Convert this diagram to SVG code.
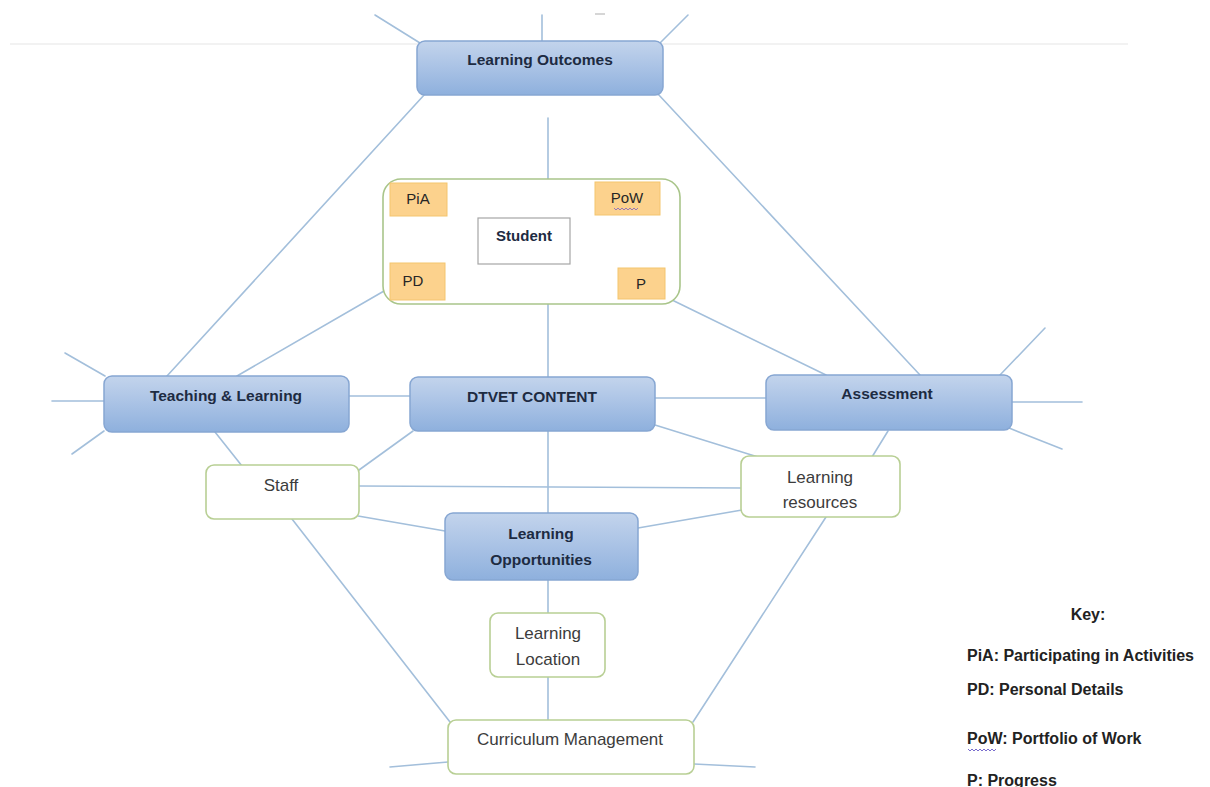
<svg xmlns="http://www.w3.org/2000/svg" width="1210" height="787" viewBox="0 0 1210 787">
<defs>
<linearGradient id="blueGrad" x1="0" y1="0" x2="0" y2="1">
<stop offset="0" stop-color="#c3d4ec"/>
<stop offset="0.5" stop-color="#a9c2e5"/>
<stop offset="1" stop-color="#8eb0dd"/>
</linearGradient>
<style>
.c{stroke:#a3bfdb;stroke-width:1.6;fill:none;stroke-linecap:round}
.blue{fill:url(#blueGrad);stroke:#86a6d2;stroke-width:1.5}
.green{fill:#ffffff;stroke:#b8cf94;stroke-width:1.6}
.orange{fill:#fcd28d;stroke:#f4c56e;stroke-width:1}
.bt{font-family:"Liberation Sans",Arial,sans-serif;font-weight:bold;font-size:15.5px;fill:#1d2b42;text-anchor:middle}
.rt{font-family:"Liberation Sans",Arial,sans-serif;font-size:17px;fill:#3c3c3c;text-anchor:middle}
.st{font-family:"Liberation Sans",Arial,sans-serif;font-size:15px;fill:#262626;text-anchor:middle}
.kt{font-family:"Liberation Sans",Arial,sans-serif;font-weight:bold;font-size:16px;fill:#222222}
</style>
</defs>
<rect width="1210" height="787" fill="#ffffff"/>
<line x1="10" y1="44" x2="1128" y2="44" stroke="#eeeeee" stroke-width="1.5"/>
<line x1="595" y1="14" x2="605" y2="14" stroke="#c8c8c8" stroke-width="1.5"/>

<g id="connectors">
<!-- Learning Outcomes stubs -->
<line class="c" x1="375" y1="15" x2="420" y2="43"/>
<line class="c" x1="542" y1="15" x2="542" y2="41"/>
<line class="c" x1="688" y1="15" x2="660" y2="43"/>
<!-- LO to T&L and Assessment -->
<line class="c" x1="425" y1="94" x2="167" y2="376"/>
<line class="c" x1="658" y1="94" x2="920" y2="375"/>
<!-- LO area to Student -->
<line class="c" x1="548" y1="118" x2="548" y2="179"/>
<!-- Student container to others -->
<line class="c" x1="384" y1="291" x2="237" y2="376"/>
<line class="c" x1="670" y1="299" x2="826" y2="375"/>
<line class="c" x1="548" y1="304" x2="548" y2="377"/>
<!-- inner student links -->
<line class="c" x1="448" y1="209" x2="478" y2="222"/>
<line class="c" x1="596" y1="214" x2="570" y2="226"/>
<line class="c" x1="446" y1="274" x2="478" y2="259"/>
<line class="c" x1="618" y1="268" x2="577" y2="258"/>
<!-- T&L stubs -->
<line class="c" x1="65" y1="353" x2="105" y2="376"/>
<line class="c" x1="52" y1="401" x2="104" y2="401"/>
<line class="c" x1="72" y1="454" x2="104" y2="431"/>
<!-- Assessment stubs -->
<line class="c" x1="1000" y1="375" x2="1045" y2="328"/>
<line class="c" x1="1012" y1="402" x2="1082" y2="402"/>
<line class="c" x1="1009" y1="428" x2="1062" y2="449"/>
<!-- row connections -->
<line class="c" x1="349" y1="396" x2="410" y2="396"/>
<line class="c" x1="655" y1="398" x2="766" y2="398"/>
<line class="c" x1="215" y1="432" x2="242" y2="466"/>
<line class="c" x1="359" y1="470" x2="413" y2="431"/>
<line class="c" x1="359" y1="486" x2="742" y2="488"/>
<line class="c" x1="358" y1="516" x2="445" y2="531"/>
<line class="c" x1="638" y1="528" x2="742" y2="510"/>
<line class="c" x1="655" y1="425" x2="758" y2="457"/>
<line class="c" x1="888" y1="431" x2="872" y2="457"/>
<line class="c" x1="548" y1="431" x2="548" y2="513"/>
<line class="c" x1="548" y1="580" x2="548" y2="613"/>
<line class="c" x1="548" y1="677" x2="548" y2="720"/>
<line class="c" x1="292" y1="519" x2="450" y2="722"/>
<line class="c" x1="826" y1="517" x2="693" y2="722"/>
<!-- Curriculum Management stubs -->
<line class="c" x1="390" y1="767" x2="448" y2="762"/>
<line class="c" x1="694" y1="764" x2="755" y2="767"/>
</g>

<g id="learning-outcomes">
<rect class="blue" x="417" y="41" width="246" height="54" rx="8"/>
<text class="bt" x="540" y="65">Learning Outcomes</text>
</g>

<g id="student-container">
<rect x="383" y="179" width="297" height="125" rx="18" fill="#ffffff" stroke="#a9c58a" stroke-width="1.6"/>
</g>
<g id="pia">
<rect class="orange" x="390" y="183" width="57" height="33"/>
<text class="st" x="418" y="204">PiA</text>
</g>
<g id="pow">
<rect class="orange" x="595" y="182" width="65" height="33"/>
<text class="st" x="627" y="203">PoW</text>
<path d="M614,208 l2,2 l2,-2 l2,2 l2,-2 l2,2 l2,-2 l2,2 l2,-2 l2,2 l2,-2 l2,2 l2,-2" fill="none" stroke="#8a6bbf" stroke-width="0.9"/>
</g>
<g id="pd">
<rect class="orange" x="390" y="263" width="55" height="37"/>
<text class="st" x="413" y="286">PD</text>
</g>
<g id="p">
<rect class="orange" x="618" y="268" width="47" height="31"/>
<text class="st" x="641" y="289">P</text>
</g>
<g id="student">
<rect x="478" y="218" width="92" height="46" fill="#ffffff" stroke="#a6a6a6" stroke-width="1.2"/>
<text class="bt" x="524" y="241" style="font-size:15px">Student</text>
</g>

<g id="teaching-learning">
<rect class="blue" x="104" y="376" width="245" height="56" rx="8"/>
<text class="bt" x="226" y="400.5">Teaching &amp; Learning</text>
</g>
<g id="dtvet-content">
<rect class="blue" x="410" y="377" width="245" height="54" rx="8"/>
<text class="bt" x="532" y="402">DTVET CONTENT</text>
</g>
<g id="assessment">
<rect class="blue" x="766" y="375" width="246" height="55" rx="8"/>
<text class="bt" x="887" y="398.5">Assessment</text>
</g>

<g id="staff">
<rect class="green" x="206" y="465" width="153" height="54" rx="8"/>
<text class="rt" x="281" y="491">Staff</text>
</g>
<g id="learning-resources">
<rect class="green" x="741" y="456" width="159" height="61" rx="8"/>
<text class="rt" x="820" y="483">Learning</text>
<text class="rt" x="820" y="508">resources</text>
</g>
<g id="learning-opportunities">
<rect class="blue" x="445" y="513" width="193" height="67" rx="8"/>
<text class="bt" x="541" y="539">Learning</text>
<text class="bt" x="541" y="565">Opportunities</text>
</g>
<g id="learning-location">
<rect class="green" x="490" y="613" width="115" height="64" rx="8"/>
<text class="rt" x="548" y="639">Learning</text>
<text class="rt" x="548" y="665">Location</text>
</g>
<g id="curriculum-management">
<rect class="green" x="448" y="720" width="246" height="54" rx="8"/>
<text class="rt" x="570" y="745">Curriculum Management</text>
</g>

<g id="key">
<text class="kt" x="1088" y="620" text-anchor="middle">Key:</text>
<text class="kt" x="967" y="661">PiA: Participating in Activities</text>
<text class="kt" x="967" y="695">PD: Personal Details</text>
<text class="kt" x="967" y="744">PoW: Portfolio of Work</text>
<path d="M968,749 l2,2 l2,-2 l2,2 l2,-2 l2,2 l2,-2 l2,2 l2,-2 l2,2 l2,-2 l2,2 l2,-2 l2,2 l2,-2" fill="none" stroke="#6a5cc8" stroke-width="0.9"/>
<text class="kt" x="967" y="786">P: Progress</text>
</g>
</svg>
